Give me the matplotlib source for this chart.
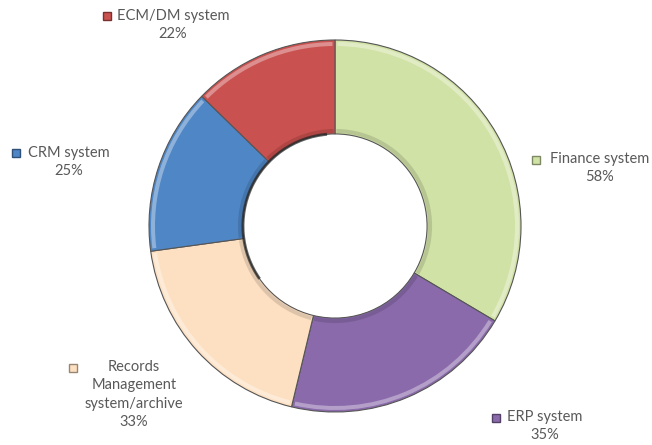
import matplotlib.pyplot as plt
import matplotlib.colors as mcolors
from matplotlib.patches import Wedge, Rectangle

# survey share of organisations using each system
systems = ["Finance system", "ERP system", "Records\nManagement\nsystem/archive",
           "CRM system", "ECM/DM system"]
shares = [58, 35, 33, 25, 22]
colors = ["#d1e2a6", "#8a6aab", "#fde0c2", "#4f86c6", "#c9514f"]

# label anchor points (pixels, origin bottom-left, top of text block) and marker centres
label_pos = [(600, 293), (545, 35), (134, 85), (69, 299), (173, 436)]
marker_pos = [(536, 285), (496, 27), (73, 77), (16, 292), (107, 429)]

W, H = 652, 445
cx, cy, R = 335, 219, 186

fig = plt.figure(figsize=(W / 100, H / 100), dpi=100)
ax = fig.add_axes([0, 0, 1, 1])

wedges, _ = ax.pie(shares, colors=colors, startangle=90, counterclock=False,
                   center=(cx, cy), radius=R,
                   wedgeprops=dict(width=R * 0.505, edgecolor="#555555", linewidth=0.8))

# crude bevel: light rim on the outside, darker rim on the inside
for w, c in zip(wedges, colors):
    t1, t2 = w.theta1, w.theta2
    light = mcolors.to_rgb(c)
    light = tuple(min(1, v + (1 - v) * 0.45) for v in light)
    dark = tuple(v * 0.75 for v in mcolors.to_rgb(c))
    ax.add_patch(Wedge((cx, cy), R - 2, t1 + 0.8, t2 - 0.8, width=4,
                       facecolor=light, edgecolor="none", alpha=0.8))
    ax.add_patch(Wedge((cx, cy), R * 0.495 + 5, t1 + 0.8, t2 - 0.8, width=4,
                       facecolor=dark, edgecolor="none", alpha=0.5))

# shadow on the upper-left of the hole
ax.add_patch(Wedge((cx, cy), R * 0.495 + 1.5, 95, 215, width=3,
                   facecolor="#222222", edgecolor="none", alpha=0.7))

for name, v, (lx, ly), (mx, my), c in zip(systems, shares, label_pos, marker_pos, colors):
    ax.text(lx, ly, f"{name}\n{v}%", ha="center", va="top", fontsize=10.5,
            family="Lato", color="#595959", linespacing=1.4)
    ax.add_patch(Rectangle((mx - 4, my - 4), 8, 8, facecolor=c,
                           edgecolor=tuple(v * 0.6 for v in mcolors.to_rgb(c)),
                           linewidth=1))

ax.set_xlim(0, W)
ax.set_ylim(0, H)
ax.set_aspect("equal")
ax.axis("off")

fig.savefig("out.png", dpi=100)
